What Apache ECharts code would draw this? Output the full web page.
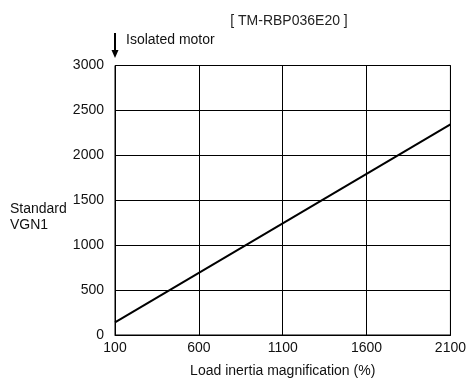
<!DOCTYPE html>
<html><head><meta charset="utf-8">
<script src="https://cdn.jsdelivr.net/npm/echarts@6/dist/echarts.min.js"></script>
<style>html,body{margin:0;padding:0;background:#fff}#c{width:469px;height:383px}</style>
</head><body><div id="c"></div>
<script>
const titleText = '[ TM-RBP036E20 ]';
const xName = 'Load inertia magnification (%)';
const yName = 'Standard\nVGN1';
const annotation = 'Isolated motor';
const xTicks = [100, 600, 1100, 1600, 2100];
const yTicks = [0, 500, 1000, 1500, 2000, 2500, 3000];
const loadInertia = [100, 2100];
const vgn1 = [140, 2345];

const chart = echarts.init(document.getElementById('c'));
const font = 'Liberation Sans, Arial, sans-serif';
chart.setOption({
  animation: false,
  textStyle: {fontFamily: font},
  title: {text: titleText, left: 284, top: 9, textAlign: 'center',
    textStyle: {fontSize: 14, fontWeight: 'normal', color: '#222', fontFamily: font}},
  grid: {left: 115, right: 14, top: 65.5, bottom: 46, show: true, borderColor: '#000', borderWidth: 1},
  xAxis: {type: 'value', min: xTicks[0], max: xTicks[xTicks.length-1], interval: 500,
    name: xName, nameLocation: 'middle', nameGap: 29,
    nameTextStyle: {fontSize: 14, color: '#111', fontFamily: font},
    axisLine: {show: true, lineStyle: {color: '#000', width: 1}},
    axisTick: {show: false},
    axisLabel: {fontSize: 14, color: '#111', margin: 6, fontFamily: font, formatter: v => String(v)},
    splitLine: {show: true, lineStyle: {color: '#000', width: 1}}},
  yAxis: {type: 'value', min: yTicks[0], max: yTicks[yTicks.length-1], interval: 500,
    axisLine: {show: true, lineStyle: {color: '#000', width: 1}},
    axisTick: {show: false},
    axisLabel: {fontSize: 14, color: '#111', margin: 11, fontFamily: font, formatter: v => String(v)},
    splitLine: {show: true, lineStyle: {color: '#000', width: 1}}},
  graphic: [
    {type: 'text', left: 10, top: 201, style: {text: yName, fill: '#111', font: '14px ' + font, lineHeight: 16}},
    {type: 'text', left: 126, top: 33, style: {text: annotation, fill: '#111', font: '14px ' + font}},
    {type: 'line', shape: {x1: 115, y1: 33, x2: 115, y2: 52}, style: {stroke: '#000', lineWidth: 2}},
    {type: 'polygon', shape: {points: [[111.5, 50], [118.5, 50], [115, 58]]}, style: {fill: '#000'}}
  ],
  series: [{type: 'line', data: loadInertia.map((x, i) => [x, vgn1[i]]),
    symbol: 'none', lineStyle: {color: '#000', width: 2}}]
});
</script></body></html>
